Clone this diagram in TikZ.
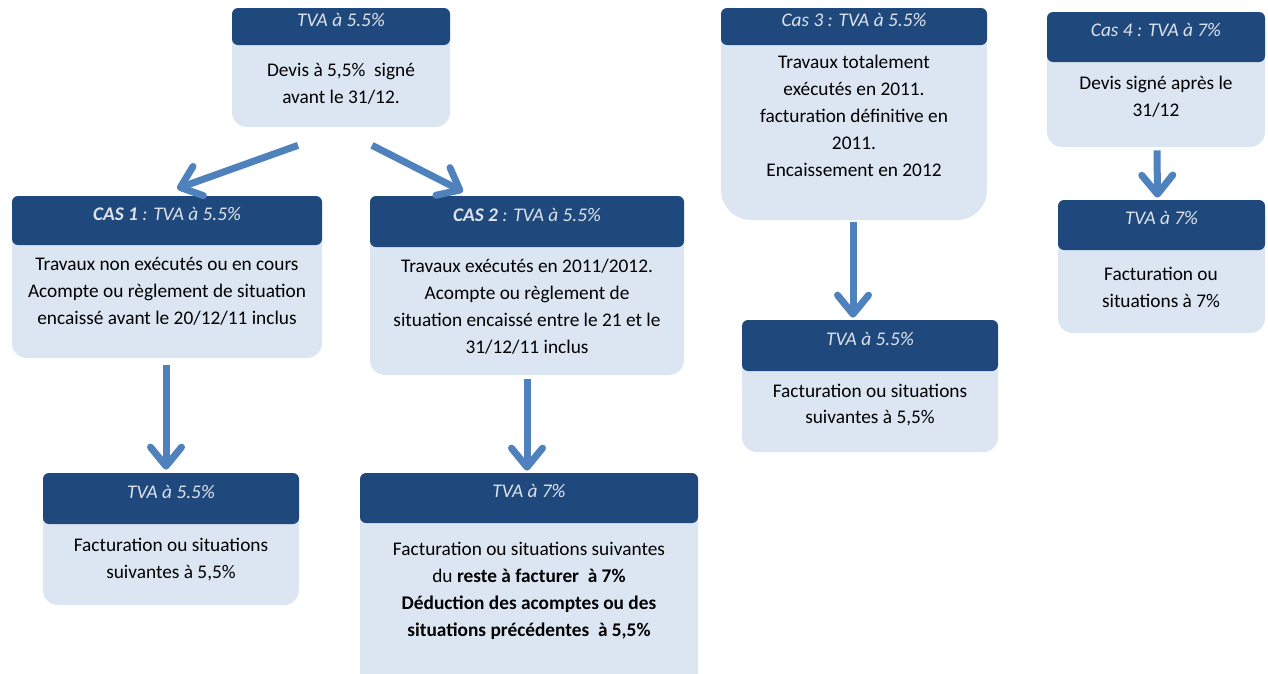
\documentclass[tikz,border=0pt]{standalone}
\usepackage{fontspec}
\setmainfont{Carlito}
\usetikzlibrary{arrows.meta, fit}

\definecolor{hdblue}{RGB}{31,73,125}
\definecolor{bodyblue}{RGB}{220,230,242}
\definecolor{arrowblue}{RGB}{79,129,189}
\definecolor{hdtext}{RGB}{222,226,234}

\tikzset{
  bodybox/.style = {fill = bodyblue, inner sep = 0, rounded corners = 0.3cm},
  hd/.style = {fill = hdblue, inner sep = 0, rounded corners = 0.12cm,
    text = hdtext, font = \fontsize{11}{13}\selectfont\itshape},
  txt/.style = {align = center, inner sep = 0, font = \fontsize{11}{15.3}\selectfont},
  flow/.style = {draw = arrowblue, line width = 0.14cm,
    -{Straight Barb[length = 0.38cm, width = 0.62cm, round]}}
}

\begin{document}
\begin{tikzpicture}[x = 0.02cm, y = -0.02cm]
  \useasboundingbox (0, 0) rectangle (1268, 673);

  % devis signe avant le 31/12
  \node[bodybox, fit = {(232, 8) (450, 127)}] (top) {};
  \node[hd, fit = {(232, 8) (450, 45)}] (top-hd) {TVA à 5.5\%};
  \node[txt] (top-txt) at (341, 83.5) {Devis à 5,5\%~~signé\\avant le 31/12.};

  % cas 1
  \node[bodybox, fit = {(12, 196) (322, 358)}] (cas1) {};
  \node[hd, fit = {(12, 196) (322, 245)}] (cas1-hd) {\textbf{CAS 1} : TVA à 5.5\%};
  \node[txt] (cas1-txt) at (167, 291.5) {Travaux non exécutés ou en cours\\
    Acompte ou règlement de situation\\encaissé avant le 20/12/11 inclus};

  \node[bodybox, fit = {(43, 473) (299, 605)}] (res1) {};
  \node[hd, fit = {(43, 473) (299, 524)}] (res1-hd) {TVA à 5.5\%};
  \node[txt] (res1-txt) at (171, 559.5) {Facturation ou situations\\suivantes à 5,5\%};

  % cas 2
  \node[bodybox, fit = {(370, 196) (684, 375)}] (cas2) {};
  \node[hd, fit = {(370, 196) (684, 247)}] (cas2-hd) {\textbf{CAS 2} : TVA à 5.5\%};
  \node[txt] (cas2-txt) at (527, 307) {Travaux exécutés en 2011/2012.\\
    Acompte ou règlement de\\situation encaissé entre le 21 et le\\31/12/11 inclus};

  \node[bodybox, fit = {(360, 473) (698, 690)}] (res2) {};
  \node[hd, fit = {(360, 473) (698, 523)}] (res2-hd) {TVA à 7\%};
  \node[txt] (res2-txt) at (529, 591) {Facturation ou situations suivantes\\
    du \textbf{reste à facturer~~à 7\%}\\\textbf{Déduction des acomptes ou des}\\
    \textbf{situations précédentes~~à 5,5\%}};

  % cas 3
  \node[bodybox, rounded corners = 0.6cm, fit = {(721, 8) (987, 220)}] (cas3) {};
  \node[hd, fit = {(721, 8) (987, 45)}] (cas3-hd) {Cas 3 : TVA à 5.5\%};
  \node[txt] (cas3-txt) at (854, 116) {Travaux totalement\\exécutés en 2011.\\
    facturation définitive en\\2011.\\Encaissement en 2012};

  \node[bodybox, fit = {(742, 320) (998, 452)}] (res3) {};
  \node[hd, fit = {(742, 320) (998, 371)}] (res3-hd) {TVA à 5.5\%};
  \node[txt] (res3-txt) at (870, 405) {Facturation ou situations\\suivantes à 5,5\%};

  % cas 4
  \node[bodybox, fit = {(1047, 12) (1265, 147)}] (cas4) {};
  \node[hd, fit = {(1047, 12) (1265, 62)}] (cas4-hd) {Cas 4 : TVA à 7\%};
  \node[txt] (cas4-txt) at (1156, 96.5) {Devis signé après le\\31/12};

  \node[bodybox, fit = {(1058, 200) (1265, 333)}] (res4) {};
  \node[hd, fit = {(1058, 200) (1265, 250)}] (res4-hd) {TVA à 7\%};
  \node[txt] (res4-txt) at (1161, 287.5) {Facturation ou\\situations à 7\%};

  % fleches
  \draw[flow] ([shift = {(-43, 18)}]top.south) -- ([shift = {(10, -7)}]cas1.north);
  \draw[flow] ([shift = {(31, 18)}]top.south) -- ([shift = {(-64, -4)}]cas2.north);
  \draw[flow] ([shift = {(-1, 7)}]cas1.south) -- ([shift = {(-5, -3)}]res1.north);
  \draw[flow] ([shift = {(0, 4)}]cas2.south) -- ([shift = {(-2, -2)}]res2.north);
  \draw[flow] ([shift = {(-1, 2)}]cas3.south) -- ([shift = {(-17, -2)}]res3.north);
  \draw[flow] ([shift = {(1, 3)}]cas4.south) -- ([shift = {(-4, -2)}]res4.north);
\end{tikzpicture}
\end{document}
